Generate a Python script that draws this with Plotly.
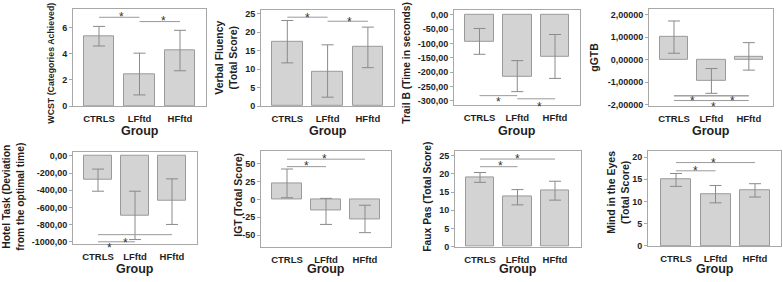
import plotly.graph_objects as go

W, H = 783, 282
groups = ["CTRLS", "LFftd", "HFftd"]

# ---- data (means and error-bar ends) ----
wcst_mean = [5.35, 2.45, 4.3]
wcst_hi = [6.1, 4.05, 5.8]
wcst_lo = [4.6, 0.85, 2.7]

vf_mean = [17.5, 9.4, 16.0]
vf_hi = [23.2, 16.6, 21.4]
vf_lo = [11.7, 2.4, 10.4]

trail_mean = [-93, -215, -145]
trail_hi = [-48, -160, -69]
trail_lo = [-138, -268, -222]

ggtb_mean = [1.0, -0.93, 0.15]
ggtb_hi = [1.72, -0.39, 0.76]
ggtb_lo = [0.29, -1.49, -0.46]

hotel_mean = [-275, -700, -525]
hotel_hi = [-153, -411, -267]
hotel_lo = [-411, -974, -798]

igt_mean = [22.5, -15.8, -27.3]
igt_hi = [42.3, 1.4, -8.2]
igt_lo = [2.3, -34.9, -46.4]

faux_mean = [19.1, 13.7, 15.5]
faux_hi = [20.4, 15.7, 18.0]
faux_lo = [17.7, 11.5, 12.8]

mind_mean = [14.9, 11.7, 12.5]
mind_hi = [16.3, 13.6, 14.0]
mind_lo = [13.4, 9.7, 11.0]

# significance brackets: (from group, to group, line level, star level, star x)
wcst_sig = [(0, 1, 6.8, 7.05, 0.55), (1, 2, 6.47, 6.72, 1.6)]
vf_sig = [(0, 1, 24.1, 24.7, 0.5), (1, 2, 23.0, 23.6, 1.55)]
trail_sig = [(0, 1, -282, -293, 0.5), (1, 2, -293, -310, 1.6)]
ggtb_sig = [(0, 2, -1.6, -1.7, 0.5), (0, 2, -1.6, -1.7, 1.55), (0, 2, -1.81, -1.98, 1.05)]
hotel_sig = [(0, 2, -917, -975, 0.75), (0, 1, -1000, -1020, 0.3)]
igt_sig = [(0, 2, 56, 60.5, 0.95), (0, 1, 45.6, 51.0, 0.5)]
faux_sig = [(0, 2, 24.1, 24.9, 1.0), (0, 1, 22.0, 23.0, 0.55)]
mind_sig = [(0, 2, 18.75, 19.3, 0.95), (0, 1, 16.9, 17.6, 0.5)]

wcst_ticks = [0, 2, 4, 6]
wcst_labels = ["0", "2", "4", "6"]
vf_ticks = [0, 5, 10, 15, 20, 25]
vf_labels = ["0", "5", "10", "15", "20", "25"]
trail_ticks = [0, -50, -100, -150, -200, -250, -300]
trail_labels = ["0,00", "-50,00", "-100,00", "-150,00", "-200,00", "-250,00", "-300,00"]
ggtb_ticks = [2, 1, 0, -1, -2]
ggtb_labels = ["2,00000", "1,00000", "0,00000", "-1,00000", "-2,00000"]
hotel_ticks = [0, -200, -400, -600, -800, -1000]
hotel_labels = ["0,00", "-200,00", "-400,00", "-600,00", "-800,00", "-1000,00"]
igt_ticks = [50, 25, 0, -25, -50]
igt_labels = ["50", "25", "0", "-25", "-50"]
faux_ticks = [0, 5, 10, 15, 20, 25]
faux_labels = ["0", "5", "10", "15", "20", "25"]
mind_ticks = [0, 5, 10, 15, 20]
mind_labels = ["0", "5", "10", "15", "20"]

panels = [
    dict(mean=wcst_mean, hi=wcst_hi, lo=wcst_lo, sig=wcst_sig, tv=wcst_ticks, tt=wcst_labels,
         title="WCST (Categories Achieved)"),
    dict(mean=vf_mean, hi=vf_hi, lo=vf_lo, sig=vf_sig, tv=vf_ticks, tt=vf_labels,
         title="Verbal Fluency<br>(Total Score)"),
    dict(mean=trail_mean, hi=trail_hi, lo=trail_lo, sig=trail_sig, tv=trail_ticks, tt=trail_labels,
         title="Trail B (Time in seconds)"),
    dict(mean=ggtb_mean, hi=ggtb_hi, lo=ggtb_lo, sig=ggtb_sig, tv=ggtb_ticks, tt=ggtb_labels,
         title="gGTB"),
    dict(mean=hotel_mean, hi=hotel_hi, lo=hotel_lo, sig=hotel_sig, tv=hotel_ticks, tt=hotel_labels,
         title="Hotel Task (Deviation<br>from the optimal time)"),
    dict(mean=igt_mean, hi=igt_hi, lo=igt_lo, sig=igt_sig, tv=igt_ticks, tt=igt_labels,
         title="IGT (Total Score)"),
    dict(mean=faux_mean, hi=faux_hi, lo=faux_lo, sig=faux_sig, tv=faux_ticks, tt=faux_labels,
         title="Faux Pas (Total Score)"),
    dict(mean=mind_mean, hi=mind_hi, lo=mind_lo, sig=mind_sig, tv=mind_ticks, tt=mind_labels,
         title="Mind in the Eyes<br>(Total Score)"),
]

# ---- layout geometry (pixels) ----
frames = [  # x0, x1, ytop, ybottom
    (73, 206, 8.5, 107.3), (261, 394, 9, 107.3), (454, 580, 9, 106), (649, 773, 8, 107),
    (73, 197, 154, 248.3), (261, 391, 153.7, 251), (455, 581, 153.7, 251), (648, 781, 153.5, 250.3),
]
xranges = [(-0.642, 2.642), (-0.653, 2.648), (-0.675, 2.662), (-0.667, 2.645),
           (-0.676, 2.676), (-0.667, 2.667), (-0.667, 2.693), (-0.709, 2.658)]
yranges = [(0, 7.41), (0, 26.1), (-313.7, 17), (-2.04, 2.26),
           (-1026, 49), (-65.9, 66.8), (0, 26.2), (0, 21.3)]
ytitle_pos = [(51, 63), (226, 58), (407, 63), (594, 58), (13, 200), (238, 198), (428, 200), (618, 196)]
ytitle_size = [8.8, 10.5, 10.3, 10.5, 10.3, 10.5, 10.3, 10.5]
star_shift = [-3, -3, -3, -3, -3, -3, -3, -3]
star_shift_low = {(4, 1): -4}

FONT = "Liberation Sans, Arial, sans-serif"
TXT = "#1e1e1e"
BAR_FILL = "#d3d3d3"
BAR_LINE = "#9a9a9a"
ERR = "#8a8a8a"
FRAME = "#a8a8a8"
SIG = "#9a9a9a"

fig = go.Figure()
shapes = []
annotations = []

for i, p in enumerate(panels):
    k = i + 1
    xa = "x" if k == 1 else f"x{k}"
    ya = "y" if k == 1 else f"y{k}"
    plus = [h - m for h, m in zip(p["hi"], p["mean"])]
    minus = [m - l for m, l in zip(p["mean"], p["lo"])]
    fig.add_trace(go.Bar(
        x=[0, 1, 2], y=p["mean"], width=0.76,
        marker=dict(color=BAR_FILL, line=dict(color=BAR_LINE, width=1)),
        error_y=dict(type="data", symmetric=False, array=plus, arrayminus=minus,
                     color=ERR, thickness=1, width=6),
        xaxis=xa, yaxis=ya, showlegend=False, hoverinfo="skip",
    ))
    x0, x1, yt, yb = frames[i]
    xd = [x0 / W, x1 / W]
    yd = [1 - yb / H, 1 - yt / H]
    axkey = "xaxis" if k == 1 else f"xaxis{k}"
    aykey = "yaxis" if k == 1 else f"yaxis{k}"
    fig.layout[axkey] = dict(
        domain=xd, range=list(xranges[i]), anchor=ya,
        tickvals=[0, 1, 2], ticktext=groups, ticks="",
        showline=True, mirror=True, linecolor=FRAME, linewidth=1,
        showgrid=False, zeroline=False, fixedrange=True,
        tickfont=dict(family=FONT, size=9.5, color=TXT, weight="bold"),
        ticklabelstandoff=4,
    )
    fig.layout[aykey] = dict(
        domain=yd, range=list(yranges[i]), anchor=xa,
        tickvals=p["tv"], ticktext=p["tt"], ticks="outside", ticklen=3,
        tickcolor=FRAME,
        showline=True, mirror=True, linecolor=FRAME, linewidth=1,
        showgrid=False, zeroline=False, fixedrange=True,
        tickfont=dict(family=FONT, size=9, color=TXT, weight="bold"),
    )
    # significance brackets
    for j, (a, b, lvl, slvl, sx) in enumerate(p["sig"]):
        shapes.append(dict(type="line", xref=xa, yref=ya, x0=a, x1=b, y0=lvl, y1=lvl,
                           line=dict(color=SIG, width=1)))
        annotations.append(dict(xref=xa, yref=ya, x=sx, y=slvl, text="*", showarrow=False,
                                font=dict(family=FONT, size=12, color="#333"),
                                xanchor="center", yanchor="middle",
                                yshift=star_shift_low.get((i, j), star_shift[i])))
    # y title
    tx, ty = ytitle_pos[i]
    annotations.append(dict(xref="paper", yref="paper", x=tx / W, y=1 - ty / H,
                            text=p["title"], textangle=-90, showarrow=False,
                            font=dict(family=FONT, size=ytitle_size[i], color=TXT, weight="bold"),
                            xanchor="center", yanchor="middle"))
    # x title (bottom edge of its text box)
    gb = 142 if i < 4 else 283
    annotations.append(dict(xref="paper", yref="paper", x=(x0 + x1) / 2 / W, y=1 - gb / H,
                            text="Group", showarrow=False,
                            font=dict(family=FONT, size=12.5, color=TXT, weight="bold"),
                            xanchor="center", yanchor="bottom"))

fig.update_layout(
    width=W, height=H, margin=dict(l=0, r=0, t=0, b=0),
    paper_bgcolor="white", plot_bgcolor="white",
    shapes=shapes, annotations=annotations, bargap=0,
)
fig.write_html("out.html", config={"displayModeBar": False},
               post_script="document.body.style.margin='0';")
